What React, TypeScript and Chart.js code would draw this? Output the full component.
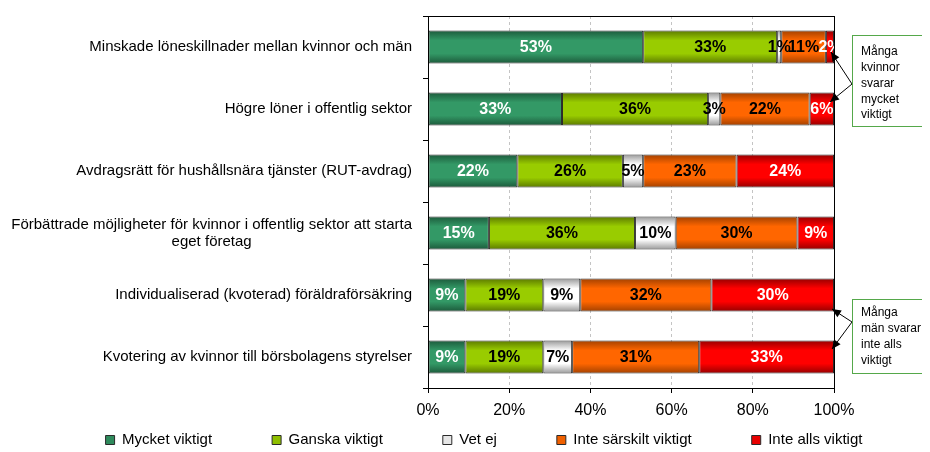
import React, { useEffect, useRef } from 'react';
import { Chart, registerables } from 'chart.js';

Chart.register(...registerables);

// ---------- data ----------
const CATEGORIES: string[][] = [
  ['Minskade löneskillnader mellan kvinnor och män'],
  ['Högre löner i offentlig sektor'],
  ['Avdragsrätt för hushållsnära tjänster (RUT-avdrag)'],
  ['Förbättrade möjligheter för kvinnor i offentlig sektor att starta', 'eget företag'],
  ['Individualiserad (kvoterad) föräldraförsäkring'],
  ['Kvotering av kvinnor till börsbolagens styrelser'],
];
const SERIES_NAMES = ['Mycket viktigt', 'Ganska viktigt', 'Vet ej', 'Inte särskilt viktigt', 'Inte alls viktigt'];
const MYCKET_VIKTIGT = [53, 33, 22, 15, 9.2, 9.2];
const GANSKA_VIKTIGT = [33, 36, 26, 36, 19.2, 19.2];
const VET_EJ = [1, 3, 5, 10, 9.1, 7.1];
const INTE_SARSKILT_VIKTIGT = [11, 22, 23, 30, 32.3, 31.3];
const INTE_ALLS_VIKTIGT = [2, 6, 24, 9, 30.2, 33.2];
const X_TICK_STEP = 20;
const CALLOUT_WOMEN = ['Många', 'kvinnor', 'svarar', 'mycket', 'viktigt'];
const CALLOUT_MEN = ['Många', 'män svarar', 'inte alls', 'viktigt'];

// ---------- styles ----------
const BASE = ['#339966', '#99cc00', '#ffffff', '#ff6600', '#ff0000'];
const EDGE = ['#1c5a3b', '#5c7a00', '#9a9a9a', '#a34100', '#960000'];
const LEGEND_FILL = ['#2f8a5c', '#8fbf00', '#e6e6e6', '#f06000', '#e80000'];
const LABEL_COLORS = ['#ffffff', '#000000', '#000000', '#000000', '#ffffff'];
const FONT = '"Liberation Sans", Arial, Helvetica, sans-serif';
const BAR_PCT = 0.53;

Chart.defaults.font.family = FONT;
Chart.defaults.color = '#000';

function makeBg(i: number) {
  return (c: any) => {
    const chart = c.chart;
    const y = chart.scales && chart.scales.y;
    if (c.type !== 'data' || !y || !chart.chartArea || c.dataIndex === undefined) return BASE[i];
    const cy = y.getPixelForValue(c.dataIndex);
    const half = (y.height / CATEGORIES.length) * BAR_PCT / 2;
    const g = chart.ctx.createLinearGradient(0, cy - half, 0, cy + half);
    g.addColorStop(0, EDGE[i]);
    g.addColorStop(0.3, BASE[i]);
    g.addColorStop(0.7, BASE[i]);
    g.addColorStop(1, EDGE[i]);
    return g;
  };
}

const yLabelsPlugin = {
  id: 'yLabels',
  afterDraw(chart: any) {
    const { ctx, chartArea, scales } = chart;
    const y = scales.y;
    ctx.save();
    ctx.font = `15px ${FONT}`;
    ctx.fillStyle = '#000';
    ctx.textAlign = 'center';
    ctx.textBaseline = 'middle';
    const right = chartArea.left - 16;
    CATEGORIES.forEach((lines, i) => {
      const cy = y.getPixelForValue(i);
      const maxW = Math.max(...lines.map((l) => ctx.measureText(l).width));
      const cx = right - maxW / 2;
      const lh = 17;
      lines.forEach((l, k) => ctx.fillText(l, cx, cy + (k - (lines.length - 1) / 2) * lh));
    });
    ctx.restore();
  },
};

const dataLabelsPlugin = {
  id: 'dataLabels',
  afterDatasetsDraw(chart: any) {
    const { ctx, chartArea } = chart;
    ctx.save();
    ctx.beginPath();
    ctx.rect(chartArea.left, chartArea.top, chartArea.right - chartArea.left, chartArea.bottom - chartArea.top);
    ctx.clip();
    ctx.font = `bold 16px ${FONT}`;
    ctx.textAlign = 'center';
    ctx.textBaseline = 'middle';
    chart.data.datasets.forEach((ds: any, di: number) => {
      const meta = chart.getDatasetMeta(di);
      ctx.fillStyle = LABEL_COLORS[di];
      meta.data.forEach((bar: any, j: number) => {
        const v = ds.data[j];
        const p = bar.getProps(['x', 'base', 'y'], true);
        ctx.fillText(Math.round(v) + '%', (p.x + p.base) / 2, p.y + 1);
      });
    });
    ctx.restore();
  },
};

function arrow(ctx: CanvasRenderingContext2D, x1: number, y1: number, x2: number, y2: number) {
  ctx.beginPath();
  ctx.moveTo(x1, y1);
  ctx.lineTo(x2, y2);
  ctx.stroke();
  const a = Math.atan2(y2 - y1, x2 - x1);
  const L = 9, W = 4;
  ctx.beginPath();
  ctx.moveTo(x2, y2);
  ctx.lineTo(x2 - L * Math.cos(a) + W * Math.sin(a), y2 - L * Math.sin(a) - W * Math.cos(a));
  ctx.lineTo(x2 - L * Math.cos(a) - W * Math.sin(a), y2 - L * Math.sin(a) + W * Math.cos(a));
  ctx.closePath();
  ctx.fill();
}

const frameAndCalloutPlugin = {
  id: 'frameCallout',
  afterDraw(chart: any) {
    const { ctx, chartArea, scales, width } = chart;
    const y = scales.y;
    ctx.save();
    // plot frame
    ctx.strokeStyle = '#000';
    ctx.lineWidth = 1;
    ctx.strokeRect(chartArea.left + 0.5, chartArea.top + 0.5, chartArea.right - chartArea.left, chartArea.bottom - chartArea.top);

    const boxL = chartArea.right + 18;
    const boxR = width - 1;
    const drawBox = (top: number, bottom: number, lines: string[], textTop: number, lh: number) => {
      ctx.fillStyle = '#fff';
      ctx.fillRect(boxL, top, boxR - boxL, bottom - top);
      ctx.strokeStyle = '#55a84a';
      ctx.lineWidth = 1;
      ctx.strokeRect(Math.round(boxL) + 0.5, Math.round(top) + 0.5, Math.round(boxR - boxL) - 1, Math.round(bottom - top));
      ctx.fillStyle = '#000';
      ctx.font = `12px ${FONT}`;
      ctx.textAlign = 'left';
      ctx.textBaseline = 'middle';
      lines.forEach((l, k) => ctx.fillText(l, boxL + 9, textTop + k * lh));
    };
    const xr = scales.x.getPixelForValue(100);
    const y0 = y.getPixelForValue(0), y1 = y.getPixelForValue(1);
    const y4 = y.getPixelForValue(4), y5 = y.getPixelForValue(5);

    ctx.strokeStyle = '#000';
    ctx.fillStyle = '#000';
    ctx.lineWidth = 1;
    arrow(ctx, boxL, y0 + 37, xr - 3, y0 + 5);
    arrow(ctx, boxL, y0 + 37, xr - 4, y1 - 7);
    arrow(ctx, boxL, y4 + 27, xr - 2, y4 + 14);
    arrow(ctx, boxL, y4 + 27, xr - 2, y5 - 8);

    drawBox(y0 - 12, y1 + 17, CALLOUT_WOMEN, y0 + 5, 15.75);
    drawBox(y4 + 4, y5 + 16, CALLOUT_MEN, y4 + 18, 16);
    ctx.restore();
  },
};

const legendShiftPlugin = {
  id: 'legendShift',
  afterLayout(chart: any) {
    const lg = chart.legend;
    if (!lg) return;
    const textCenter = chart.height - 12;
    lg.top = textCenter - 7.5 - 60;
    lg.bottom = chart.height;
  },
};

export default function App() {
  const ref = useRef<HTMLCanvasElement>(null);
  useEffect(() => {
    const seriesData = [MYCKET_VIKTIGT, GANSKA_VIKTIGT, VET_EJ, INTE_SARSKILT_VIKTIGT, INTE_ALLS_VIKTIGT];
    const labels = CATEGORIES.map((l) => l.join(' '));
    const chart = new Chart(ref.current as HTMLCanvasElement, {
      type: 'bar',
      data: {
        labels,
        datasets: seriesData.map((d, i) => ({
          label: SERIES_NAMES[i],
          data: d,
          backgroundColor: makeBg(i) as any,
          borderColor: '#2a2a2a',
          borderWidth: 1,
          borderSkipped: false,
          barPercentage: BAR_PCT,
          categoryPercentage: 1,
        })),
      },
      options: {
        animation: false,
        responsive: true,
        maintainAspectRatio: false,
        indexAxis: 'y',
        layout: { padding: { left: 32, top: 8, right: 0, bottom: 0 } },
        scales: {
          x: {
            stacked: true,
            min: 0,
            max: 100,
            position: 'bottom',
            ticks: {
              stepSize: X_TICK_STEP,
              callback: (v: any) => v + '%',
              font: { size: 16 },
              color: '#000',
              padding: 8,
            },
            grid: {
              color: (c: any) => (c.index === 0 || c.index === 5 ? 'rgba(0,0,0,0)' : '#c4c4c4'),
              tickColor: '#000',
              tickLength: 5,
              lineWidth: 1,
            },
            border: { display: true, color: '#000', dash: [3, 3] },
            afterFit: (s: any) => { s.height = 40; },
          },
          y: {
            stacked: true,
            type: 'category',
            position: 'left',
            ticks: { display: false },
            grid: { drawOnChartArea: false, tickColor: '#000', tickLength: 5, offset: true },
            border: { display: true, color: '#000' },
            afterFit: (s: any) => { s.width = 388; },
          },
          y2: {
            type: 'category',
            position: 'right',
            display: true,
            ticks: { display: false },
            grid: { display: false },
            border: { display: false },
            afterFit: (s: any) => { s.width = 94; },
          },
        } as any,
        plugins: {
          legend: {
            position: 'bottom',
            maxHeight: 24,
            labels: {
              boxWidth: 9,
              boxHeight: 9,
              padding: 60,
              font: { size: 15 },
              color: '#000',
              generateLabels: (ch: any) =>
                ch.data.datasets.map((ds: any, i: number) => ({
                  text: ds.label,
                  fillStyle: LEGEND_FILL[i],
                  strokeStyle: '#2a2a2a',
                  lineWidth: 1,
                  hidden: false,
                  datasetIndex: i,
                  fontColor: '#000',
                })),
            },
          },
          tooltip: { enabled: false },
        },
      } as any,
      plugins: [yLabelsPlugin, dataLabelsPlugin, frameAndCalloutPlugin, legendShiftPlugin],
    });
    return () => chart.destroy();
  }, []);
  return (
    <div style={{ width: 920, height: 444, position: 'relative' }}>
      <canvas ref={ref} />
    </div>
  );
}
